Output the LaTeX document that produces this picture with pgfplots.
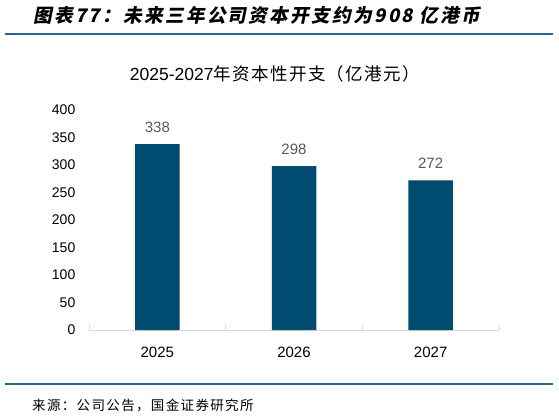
\documentclass[border=0pt]{standalone}
\usepackage{fontspec}
\usepackage{pgfplots}
\pgfplotsset{compat=1.18}
\setmainfont{Liberation Sans}
\newfontfamily\cjk{Noto Sans CJK SC}[LetterSpace=8]
\newfontfamily\cjkfoot{Noto Sans CJK SC}[LetterSpace=10]
\newfontfamily\hdr{Noto Sans CJK SC}[FakeSlant=0.2,LetterSpace=12]
\definecolor{barblue}{RGB}{0,75,112}
\definecolor{rulecol}{RGB}{40,100,140}
\definecolor{axisgray}{RGB}{217,217,217}
\definecolor{lblgray}{RGB}{89,89,89}

\begin{document}
\begin{tikzpicture}[x=1pt,y=1pt]
\useasboundingbox (0,0) rectangle (559,416);
% header and footer rules
\draw[rulecol, line width=2pt] (5,382) -- (553,382);
\draw[rulecol, line width=2pt] (5,32) -- (553,32);
\node[anchor=west, inner sep=0] at (33,401)
  {\hdr\bfseries\fontsize{18.7pt}{20pt}\selectfont 图表77：未来三年公司资本开支约为908 亿港币};
\node[inner sep=0] at (275,342)
  {\fontsize{17.5pt}{20pt}\selectfont 2025-2027{\cjk 年资本性开支（亿港元）}};
\node[anchor=west, inner sep=0] at (32,11)
  {\cjkfoot\fontsize{13.5pt}{16pt}\selectfont 来源：公司公告，国金证券研究所};

\begin{axis}[
    at={(89pt,86pt)}, anchor=south west,
    scale only axis, width=410pt, height=220pt,
    ybar, bar width=44.5pt,
    ymin=0, ymax=400, xmin=-0.5, xmax=2.5,
    enlargelimits=false, clip=false,
    ytick={0,50,...,400},
    xtick=data, xticklabels={2025,2026,2027},
    axis x line*=bottom, axis y line*=left,
    x axis line style={axisgray, line width=1pt, -},
    y axis line style={draw=none},
    xtick style={draw=none}, ytick style={draw=none},
    extra x ticks={-0.5,0.5,1.5,2.5}, extra x tick labels={},
    extra x tick style={xtick style={draw=axisgray, line width=1pt},
      major tick length=5pt, tick align=inside},
    /pgf/number format/assume math mode=true,
    yticklabel style={anchor=east, inner sep=0, xshift=-13.5pt,
      font=\fontsize{14pt}{16pt}\selectfont},
    xticklabel style={anchor=center, inner sep=0, yshift=-18pt,
      font=\fontsize{15pt}{17pt}\selectfont},
    nodes near coords,
    nodes near coords style={anchor=center, inner sep=0, yshift=17pt,
      text=lblgray, font=\fontsize{15pt}{17pt}\selectfont},
  ]
  \addplot[fill=barblue, draw=none] coordinates {
    (0, 338)
    (1, 298)
    (2, 272)
  };
\end{axis}
\end{tikzpicture}
\end{document}
